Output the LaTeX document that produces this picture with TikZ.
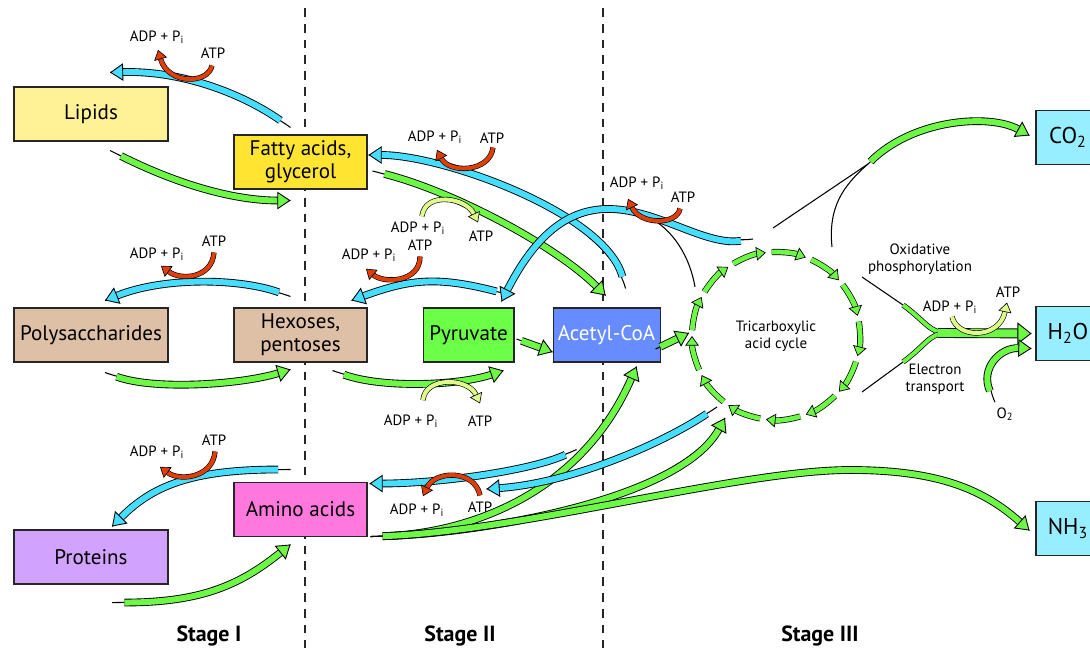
\documentclass[tikz,border=0pt]{standalone}
\usepackage{fontspec}
\setmainfont{PT Sans}
\usetikzlibrary{arrows.meta}
\usetikzlibrary{positioning}

% box fills
\definecolor{lipidfill}{RGB}{255,242,150}
\definecolor{fattyfill}{RGB}{255,228,50}
\definecolor{sugarfill}{RGB}{222,192,166}
\definecolor{pyrfill}{RGB}{108,255,72}
\definecolor{acetylfill}{RGB}{102,140,255}
\definecolor{proteinfill}{RGB}{210,162,255}
\definecolor{aminofill}{RGB}{255,120,222}
\definecolor{wastefill}{RGB}{150,238,255}
% arrow bodies
\definecolor{fluxgreen}{RGB}{110,248,70}
\definecolor{fluxblue}{RGB}{70,222,255}
\definecolor{atpred}{RGB}{222,62,10}
\definecolor{atpyellow}{RGB}{222,250,140}

\begin{document}
\begin{tikzpicture}[
x=0.02cm, y=-0.02cm,
box/.style={
	% The shape:
	rectangle, minimum height=1.08cm, inner sep=0pt,
	% The border:
	draw=black!85, line width=0.6pt,
	% Font
	align=center, font=\fontsize{12}{13}\selectfont},
wide box/.style={box, minimum width=3.08cm},
mid box/.style={box, minimum width=2.66cm},
end box/.style={box, minimum width=1.28cm, fill=wastefill, font=\fontsize{13}{14}\selectfont},
tag/.style={inner sep=0.5pt, align=center, font=\fontsize{8.5}{9.5}\selectfont},
stage/.style={font=\fontsize{12.5}{13}\selectfont\bfseries},
divider/.style={draw=black!85, line width=0.6pt, dash pattern=on 5pt off 4pt},
flux/.style={
	% thin lead-in under the band
	preaction={draw=black, double=black, double distance=0pt, line width=0.3pt, -, shorten <=0pt},
	draw=black, double=#1, double distance=3.4pt, line width=0.5pt, shorten <=7pt,
	-{Triangle[length=7.5pt, width=10pt, fill=#1, line width=0.5pt]}},
atp/.style={
	draw=black, double=#1, double distance=2.3pt, line width=0.35pt,
	-{Triangle[length=5.5pt, width=7.5pt, fill=#1, line width=0.35pt]}},
turn/.style={
	draw=black, double=fluxgreen, double distance=2.7pt, line width=0.4pt,
	-{Triangle[length=5.5pt, width=7.8pt, fill=fluxgreen, line width=0.4pt]}},
branch/.style={draw=black, double=fluxgreen, double distance=2.2pt, line width=0.4pt},
lead/.style={draw=black, line width=0.6pt},
]
\useasboundingbox (0,0) rectangle (1090,648);

% stage dividers
\draw[divider] (305,8) -- (305,648);
\draw[divider] (603,8) -- (603,648);
\node (stage_1) [stage] at (209,636) {Stage I};
\node (stage_2) [stage] at (460,636) {Stage II};
\node (stage_3) [stage] at (820,636) {Stage III};

% stage I
\node (lipids) [wide box, fill=lipidfill] at (91,114) {Lipids};
\node (polysacch) [wide box, fill=sugarfill, below=3.32cm of lipids] {Polysaccharides};
\node (proteins) [wide box, fill=proteinfill, below=3.34cm of polysacch] {Proteins};

% stage II
\node (fatty) [mid box, fill=fattyfill] at (300.5,162) {Fatty acids,\\glycerol};
\node (hexoses) [mid box, fill=sugarfill, below=2.36cm of fatty] {Hexoses,\\pentoses};
\node (amino) [mid box, fill=aminofill, below=2.38cm of hexoses] {Amino acids};
\node (pyruvate) [box, minimum width=1.82cm, fill=pyrfill, right=1.1cm of hexoses] {Pyruvate};
\node (acetyl) [box, minimum width=2.14cm, fill=acetylfill, text=white, right=0.76cm of pyruvate] {Acetyl-CoA};

% stage III
\node (tca) [tag] at (776,336) {Tricarboxylic\\acid cycle};
\node (co2) [end box] at (1068,137.5) {CO\textsubscript{2}};
\node (h2o) [end box] at (1068,333.5) {H\textsubscript{2}O};
\node (nh3) [end box] at (1068,528.5) {NH\textsubscript{3}};

% breakdown, stage I -> II
\draw[flux=fluxgreen] ([shift={(19,9)}]lipids.south) .. controls +(70,35) and +(-55,0) .. ([shift={(-10,11)}]fatty.south);
\draw[flux=fluxgreen] ([shift={(14,10)}]polysacch.south) .. controls +(50,18) and +(-50,15) .. ([shift={(-10,7)}]hexoses.south);
\draw[flux=fluxgreen] ([shift={(21,18)}]proteins.south) .. controls +(90,0) and +(-50,40) .. ([shift={(-10,8)}]amino.south);

% synthesis, stage II -> I
\node (adp_lip) [tag] at (157,37) {ADP + P\textsubscript{i}};
\node (atp_lip) [tag] at (213,53) {ATP};
\draw[flux=fluxblue] ([shift={(-10,-7)}]fatty.north) .. controls +(-50,-35) and +(70,-2) .. ([shift={(19,-14)}]lipids.north);
\draw[atp=atpred] ([shift={(-1,6)}]atp_lip.south) .. controls +(-4,19) and +(10,35) .. ([shift={(1,5)}]adp_lip.south);

\node (adp_poly) [tag] at (157,254) {ADP + P\textsubscript{i}};
\node (atp_poly) [tag] at (214,241) {ATP};
\draw[flux=fluxblue] ([shift={(-10,-11)}]hexoses.north) .. controls +(-50,-18) and +(60,-24) .. ([shift={(14,-7)}]polysacch.north);
\draw[atp=atpred] ([shift={(0,5)}]atp_poly.south) .. controls +(-2,26) and +(20,15) .. ([shift={(4,4)}]adp_poly.south);

\node (adp_prot) [tag] at (157,452) {ADP + P\textsubscript{i}};
\node (atp_prot) [tag] at (214,440) {ATP};
\draw[flux=fluxblue] ([shift={(-10,-12)}]amino.north) .. controls +(-100,0) and +(40,-40) .. ([shift={(21,-3)}]proteins.north);
\draw[atp=atpred] ([shift={(1,5)}]atp_prot.south) .. controls +(-2,26) and +(20,15) .. ([shift={(3,7)}]adp_prot.south);

% breakdown, stage II -> III
\node (adp_beta) [tag] at (418,228) {ADP + P\textsubscript{i}};
\node (atp_beta) [tag] at (481,236) {ATP};
\draw[flux=fluxgreen] ([shift={(5,9)}]fatty.east) .. controls +(80,20) and +(-50,-50) .. ([shift={(-1,-12)}]acetyl.north);
\draw[atp=atpyellow] ([shift={(4,-4)}]adp_beta.north) .. controls +(3,-25) and +(-12,-25) .. ([shift={(-3,-7)}]atp_beta.north);

\node (adp_glyc) [tag] at (411,421) {ADP + P\textsubscript{i}};
\node (atp_glyc) [tag] at (480,421) {ATP};
\draw[flux=fluxgreen] ([shift={(32,8)}]hexoses.south) .. controls +(50,18) and +(-45,15) .. ([shift={(35,8)}]pyruvate.south);
\draw[atp=atpyellow] ([shift={(12,-13)}]adp_glyc.north) .. controls +(2,-24) and +(-12,-26) .. ([shift={(0,-11)}]atp_glyc.north);

\draw[flux=fluxgreen, shorten <=3pt] ([shift={(2,4)}]pyruvate.east) -- ([shift={(0,17)}]acetyl.west);
\draw[flux=fluxgreen, shorten <=3pt] ([shift={(-5,14)}]acetyl.east) -- ([shift={(-87,-3)}]tca.center);

\draw[flux=fluxgreen] ([shift={(3,0)}]amino.south east) .. controls +(100,-3) and +(-55,126) .. ([shift={(30,4)}]acetyl.south);
\draw[flux=fluxgreen] ([shift={(3,0)}]amino.south east) .. controls +(110,-3) and +(-45,82) .. ([shift={(-51,82)}]tca.center);
\coordinate (nh3_bend) at (850,470);
\draw[flux=fluxgreen] ([shift={(3,0)}]amino.south east) .. controls +(150,-5) and +(-110,0) .. (nh3_bend)
	.. controls +(90,0) and +(-45,-40) .. ([shift={(-6,2)}]nh3.west);

% synthesis, stage III -> II
\node (adp_fat) [tag] at (435,137) {ADP + P\textsubscript{i}};
\node (atp_fat) [tag] at (492,138) {ATP};
\draw[flux=fluxblue] ([shift={(19,-19)}]acetyl.north) .. controls +(-20,-75) and +(75,0) .. ([shift={(1,-7)}]fatty.east);
\draw[atp=atpred] ([shift={(1,3)}]atp_fat.south) .. controls +(-3,25) and +(12,24) .. ([shift={(2,5)}]adp_fat.south);

\node (adp_hex) [tag] at (369,255) {ADP + P\textsubscript{i}};
\node (atp_hex) [tag] at (420,245) {ATP};
\draw[flux=fluxblue] ([shift={(-6,-13)}]pyruvate.north east) .. controls +(-70,-18) and +(60,-22) .. ([shift={(-16,-7)}]hexoses.north east);
\draw[atp=atpred] ([shift={(0,5)}]atp_hex.south) .. controls +(0,26) and +(18,15) .. ([shift={(-3,6)}]adp_hex.south);

\node (adp_pyr) [tag] at (637,183) {ADP + P\textsubscript{i}};
\node (atp_pyr) [tag] at (683,197) {ATP};
\coordinate (pyr_join) at (648,217);
\draw[lead] ([shift={(-81,-49)}]tca.center) .. controls +(-5,-30) and +(25,12) .. (pyr_join);
\draw[flux=fluxblue] ([shift={(-23,-97)}]tca.center) .. controls +(-73,11) and +(84,-165) .. ([shift={(33,-6)}]pyruvate.north);
\draw[atp=atpred] ([shift={(-3,5)}]atp_pyr.south) .. controls +(-3,17) and +(12,26) .. ([shift={(-9,8)}]adp_pyr.south);

\node (adp_amino) [tag] at (417,510) {ADP + P\textsubscript{i}};
\node (atp_amino) [tag] at (480,507) {ATP};
\draw[flux=fluxblue] ([shift={(-30,87)}]acetyl.south) .. controls +(-45,21) and +(70,0) .. ([shift={(2,2)}]amino.north east);
\draw[flux=fluxblue] ([shift={(-59,71)}]tca.center) .. controls +(-57,38) and +(84,-6) .. ([shift={(119,-20)}]amino.east);
\draw[atp=atpred] ([shift={(0,-5)}]atp_amino.north) .. controls +(-5,-26) and +(12,-26) .. ([shift={(6,-6)}]adp_amino.north);

% the cycle itself
\foreach \k [evaluate=\k as \a using 184+27.69*\k,
             evaluate=\k as \b using 207.7+27.69*\k] in {0,...,12}
	\draw[turn] ([shift={(\a:84)}]tca.center) arc[start angle=\a, end angle=\b, radius=84];

% CO2 leaves the cycle
\coordinate (co2_join) at (868,164);
\draw[lead] ([shift={(-3,-108)}]tca.center) -- (co2_join);
\draw[lead] ([shift={(56,-89)}]tca.center) .. controls +(-4,-40) and +(-25,22) .. (co2_join);
\draw[flux=fluxgreen, shorten <=2pt] (co2_join) .. controls +(45,-45) and +(-40,-22) .. ([shift={(-6,-2)}]co2.west);

% oxidative phosphorylation / electron transport
\node (oxphos) [tag] at (920,259) {Oxidative\\phosphorylation};
\node (etrans) [tag] at (935,379) {Electron\\transport};
\coordinate (h2o_join) at (938,333);
\coordinate (ox_in) at (903,305);
\coordinate (et_in) at (903,362);
\draw[lead] ([shift={(86,-59)}]tca.center) -- (ox_in);
\draw[branch] (ox_in) .. controls +(22,16) and +(-16,0) .. ([shift={(8,0)}]h2o_join);
\draw[lead] ([shift={(86,56)}]tca.center) -- (et_in);
\draw[branch] (et_in) .. controls +(22,-16) and +(-16,0) .. ([shift={(8,0)}]h2o_join);
\draw[flux=fluxgreen, shorten <=0pt, double distance=4.6pt,
	-{Triangle[length=8pt, width=12.5pt, fill=fluxgreen, line width=0.5pt]}] (h2o_join) -- ([shift={(-4,0)}]h2o.west);

\node (adp_ox) [tag] at (950,307) {ADP + P\textsubscript{i}};
\node (atp_ox) [tag] at (1008,292) {ATP};
\draw[atp=atpyellow] ([shift={(2,2)}]adp_ox.south) .. controls +(5,22) and +(-8,37) .. ([shift={(-1,4)}]atp_ox.south);

\node (o2) [tag] at (1005,414) {O\textsubscript{2}};
\draw[flux=fluxgreen] ([shift={(-10,-4)}]o2.north) .. controls +(-15,-33) and +(-32,-1) .. ([shift={(-4,15)}]h2o.west);
\end{tikzpicture}
\end{document}
